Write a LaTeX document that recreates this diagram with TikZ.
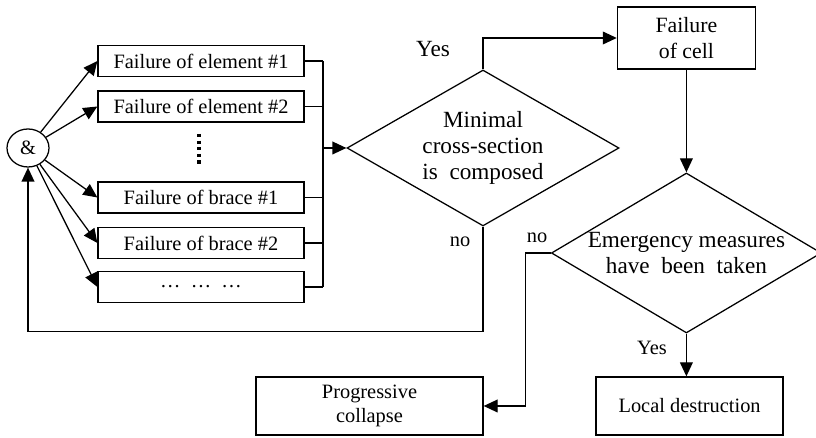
\documentclass[tikz,border=0pt]{standalone}
\usepackage{fontspec}
\setmainfont{Liberation Serif}
\usetikzlibrary{positioning,arrows.meta,shapes.geometric,calc}

\begin{document}
\begin{tikzpicture}[font=\fontsize{14.5}{17.5}\selectfont,>={Triangle[length=3.5mm,width=3.2mm]},line width=0.9pt,
  box/.style={draw,rectangle,inner sep=0pt,align=center},
  fbox/.style={box,minimum width=5.15cm,minimum height=0.78cm},
  decide/.style={draw,diamond,shape aspect=1.7,inner sep=0pt,align=center,font=\fontsize{16.5}{18.5}\selectfont}]
\useasboundingbox (0,0) rectangle (20.4,10.95);
% failures
\node[draw,ellipse,minimum width=1.05cm,minimum height=0.95cm,inner sep=0pt] (amp) at (0.70,7.25) {\&};
\node[fbox] (e1) at (5.025,9.425) {Failure of element \#1};
\node[fbox] (e2) at (5.025,8.2875) {Failure of element \#2};
\node[fbox] (r1) at (5.025,6.0125) {Failure of brace \#1};
\node[fbox] (r2) at (5.025,4.875) {Failure of brace \#2};
\node[fbox] (r3) at (5.025,3.775) {\ldots\ \ \ldots\ \ \ldots};
\draw[line width=2.2pt,dash pattern=on 2.2pt off 2.5pt] (4.975,7.6) -- (4.975,6.775);
\foreach \b in {e1,e2,r1,r2,r3}
  \draw[->] (amp) -- (\b.west);
% collecting bus
\coordinate (busbot) at (8.075,3.775);
\coordinate (busin) at (8.075,7.25);
\foreach \b in {e1,e2,r1,r2,r3}
  \draw (\b.east) -- (\b.east -| busbot);
\draw (e1.east -| busbot) -- (busbot);
% decisions
\node[decide,minimum width=6.8cm,minimum height=3.9cm] (D1) at (12.075,7.25) {Minimal\\cross-section\\is~ composed};
\draw[->] (busin) -- (D1.west);
\node[box,minimum width=3.45cm,minimum height=1.55cm,font=\fontsize{15.5}{18}\selectfont] (cell) at (17.16,10.0) {Failure\\of cell};
\draw[->] (D1.north) |- (cell.west);
\node[font=\fontsize{16.5}{18}\selectfont] (yes1) at (10.825,9.725) {Yes};
\node[decide,minimum width=6.75cm,minimum height=4.0cm] (D2) at (17.16,4.625) {Emergency measures\\have~ been~ taken};
\draw[->] (cell.south) -- (D2.north);
% outcomes
\node[box,minimum width=5.675cm,minimum height=1.45cm] (pc) at (9.2375,0.8) {Progressive\\collapse};
\node[box,minimum width=4.675cm,minimum height=1.45cm] (ld) at (17.24,0.8) {Local destruction};
\draw[->] (D2.south) -- (D2.south |- ld.north);
\node (yes2) at (16.3,2.25) {Yes};
\draw[->] (D2.west) -- ++(-0.625,0) |- (pc.east);
\node (no2) at (13.425,5.0) {no};
\draw[->] (D1.south) -- ++(0,-2.625) -| (amp.south);
\node (no1) at (11.5,4.9) {no};
\end{tikzpicture}
\end{document}
